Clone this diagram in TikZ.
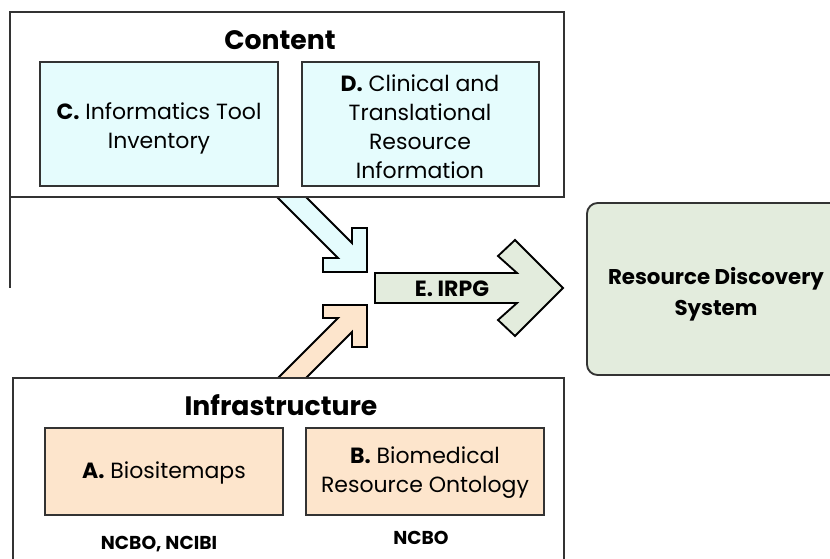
\documentclass[tikz,border=0pt]{standalone}
\usepackage{fontspec}
\setmainfont{Poppins}
\definecolor{contentblue}{HTML}{E5FCFD}
\definecolor{infraorange}{HTML}{FDE5CC}
\definecolor{irpggreen}{HTML}{E3ECDD}
\definecolor{edgegray}{HTML}{333333}

\begin{document}
\begin{tikzpicture}[x=0.75pt,y=-0.75pt,
  outerbox/.style={draw=edgegray, line width=1.1pt, fill=white},
  innerbox/.style={draw=edgegray, line width=1.4pt},
  blockarrow/.style={draw=black, line width=1.4pt, line join=miter},
  boxtext/.style={align=center, font=\fontsize{16.5}{21.8}\selectfont},
  titletext/.style={font=\fontsize{20}{24}\selectfont\bfseries},
  fundtext/.style={font=\fontsize{14}{17}\selectfont\bfseries}]
\useasboundingbox (0,0) rectangle (830,559);

% block arrows first, the outer boxes cover their tails
\filldraw[blockarrow, fill = contentblue] (276,196) -- (338,258) -- (323,258) -- (323,272) -- (367,272) -- (367,228) -- (352,228) -- (352,243) -- (305,196) -- cycle;
\filldraw[blockarrow, fill = infraorange] (276,380) -- (338,318) -- (323,318) -- (323,305) -- (367,305) -- (367,347) -- (352,347) -- (352,332) -- (304,380) -- cycle;
\filldraw[blockarrow, fill = irpggreen] (375,273) -- (517,273) -- (498,256) -- (515,240) -- (563,288) -- (515,336) -- (498,320) -- (517,303) -- (375,303) -- cycle;
\node[font=\fontsize{16.5}{20}\selectfont\bfseries] (irpg) at (452,289) {E. IRPG};

% content
\draw[outerbox] (10,12) rectangle (564,197);
\draw[edgegray, line width=1.1pt] (10,197) -- (10,288);
\node[titletext] (content) at (280,40) {Content};
\filldraw[innerbox, fill = contentblue] (40,62) rectangle (278,186);
\node[boxtext] (toolinv) at (159,128) {{\bfseries C.} Informatics Tool\\Inventory};
\filldraw[innerbox, fill = contentblue] (302,62) rectangle (539,186);
\node[boxtext] (clinical) at (420,127) {{\bfseries D.} Clinical and\\Translational\\Resource\\Information};

% infrastructure
\draw[outerbox] (13,378) rectangle (564,570);
\node[titletext] (infra) at (281,405) {Infrastructure};
\filldraw[innerbox, fill = infraorange] (45,428) rectangle (283,515);
\node[boxtext] (biosite) at (164,473) {{\bfseries A.} Biositemaps};
\filldraw[innerbox, fill = infraorange] (306,428) rectangle (544,515);
\node[boxtext] (ontology) at (425,473) {{\bfseries B.} Biomedical\\Resource Ontology};
\node[fundtext] (fundA) at (159,544) {NCBO, NCIBI};
\node[fundtext] (fundB) at (421,538) {NCBO};

% resource discovery
\filldraw[innerbox, fill = irpggreen, rounded corners=8pt] (587,203) rectangle (845,375);
\node[align=center, font=\fontsize{16}{23}\selectfont\bfseries] (rds) at (716,294) {Resource Discovery\\System};
\end{tikzpicture}
\end{document}
